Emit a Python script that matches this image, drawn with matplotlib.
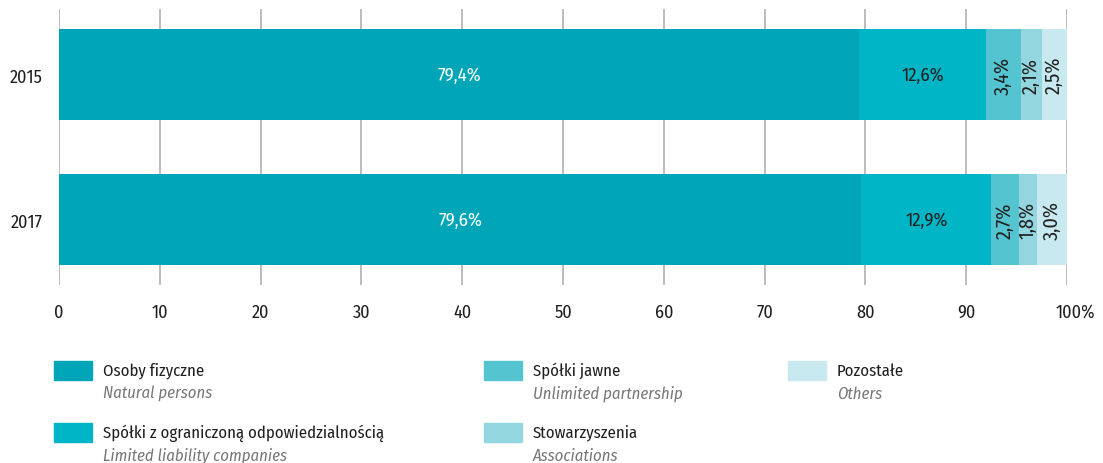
import matplotlib
matplotlib.use("Agg")
import matplotlib.pyplot as plt
from matplotlib.patches import Rectangle
from matplotlib.transforms import ScaledTranslation

# ---- data ----
years = ["2015", "2017"]
categories_pl = ["Osoby fizyczne", "Spółki z ograniczoną odpowiedzialnością",
                 "Spółki jawne", "Stowarzyszenia", "Pozostałe"]
categories_en = ["Natural persons", "Limited liability companies",
                 "Unlimited partnership", "Associations", "Others"]
values_2015 = [79.4, 12.6, 3.4, 2.1, 2.5]
values_2017 = [79.6, 12.9, 2.7, 1.8, 3.0]
labels_2015 = ["79,4%", "12,6%", "3,4%", "2,1%", "2,5%"]
labels_2017 = ["79,6%", "12,9%", "2,7%", "1,8%", "3,0%"]
x_ticks = [0, 10, 20, 30, 40, 50, 60, 70, 80, 90, 100]
x_ticklabels = ["0", "10", "20", "30", "40", "50", "60", "70", "80", "90", "100%"]

colors = ["#00a6b8", "#00b5c6", "#55c4d1", "#93d6df", "#c8e9ef"]
text_colors = ["white", "#1e1e1e", "#1e1e1e", "#1e1e1e", "#1e1e1e"]
rotations = [0, 0, 90, 90, 90]
label_sizes = [13.5, 13.5, 14.5, 14.5, 14.5]

plt.rcParams["font.family"] = ["Fira Sans Condensed", "DejaVu Sans"]

W, H = 1103, 464
fig = plt.figure(figsize=(W / 100, H / 100), dpi=100)
ax = fig.add_axes([59 / W, 1 - 286 / H, 1008 / W, 276 / H])

all_vals = [values_2015, values_2017]
all_labels = [labels_2015, labels_2017]
for yi, (vals, labs) in enumerate(zip(all_vals, all_labels)):
    left = 0
    for ci, v in enumerate(vals):
        ax.barh(yi, v, left=left, height=0.628, color=colors[ci], zorder=2)
        ax.text(left + v / 2, yi, labs[ci], ha="center", va="center",
                color=text_colors[ci], rotation=rotations[ci],
                fontsize=label_sizes[ci], zorder=3)
        left += v

ax.set_xlim(0, 100)
ax.set_ylim(1.452, -0.452)
ax.set_xticks(x_ticks)
ax.set_xticklabels(x_ticklabels)
ax.set_yticks([0, 1])
ax.set_yticklabels(years)
ax.tick_params(axis="x", length=0, pad=13, labelsize=13, labelcolor="#1e1e1e")
ax.tick_params(axis="y", length=0, pad=12, labelsize=13, labelcolor="#1e1e1e")
for s in ax.spines.values():
    s.set_visible(False)
ax.grid(axis="x", color="#b0b0b0", linewidth=1.2, zorder=0)
last = ax.get_xticklabels()[-1]
last.set_transform(last.get_transform() + ScaledTranslation(8 / 100, 0, fig.dpi_scale_trans))

# ---- legend ----
positions = [(54, 362), (54, 424), (484, 362), (484, 424), (788, 362)]
for ci, (px, py) in enumerate(positions):
    fig.patches.append(Rectangle((px / W, 1 - (py + 19) / H), 38 / W, 19 / H,
                                 transform=fig.transFigure, color=colors[ci]))
    fig.text((px + 49) / W, 1 - (py + 9) / H, categories_pl[ci], ha="left", va="center",
             fontsize=12, color="#1e1e1e")
    fig.text((px + 49) / W, 1 - (py + 32) / H, categories_en[ci], ha="left", va="center",
             fontsize=12, color="#777777", style="italic")

fig.savefig("out.png", dpi=100)
